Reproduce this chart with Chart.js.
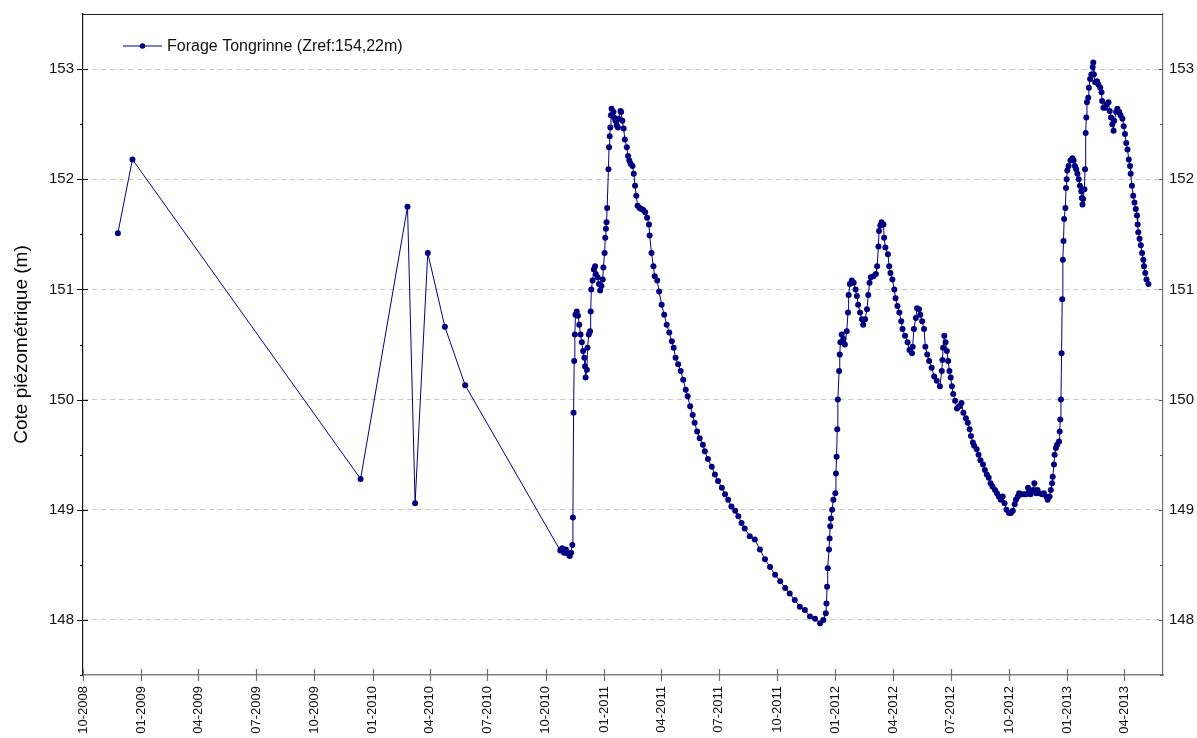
<!DOCTYPE html>
<html>
<head>
<meta charset="utf-8">
<script src="https://cdn.jsdelivr.net/npm/chart.js@4.4.0/dist/chart.umd.min.js"></script>
<style>
html,body{margin:0;padding:0;background:#fff;}
#wrap{width:1197px;height:738px;position:relative;}
</style>
</head>
<body>
<div id="wrap"><canvas id="c" width="1197" height="738"></canvas></div>
<script>
// ---------- data ----------
const seriesLabel = 'Forage Tongrinne (Zref:154,22m)';
const yAxisTitle = 'Cote piézométrique (m)';
const xTickLabels = ['10-2008','01-2009','04-2009','07-2009','10-2009','01-2010','04-2010','07-2010','10-2010',
  '01-2011','04-2011','07-2011','10-2011','01-2012','04-2012','07-2012','10-2012','01-2013','04-2013'];
const xStartLabel = '10-2008';
const xEndLabel = '06-2013';
const yMin = 147.5, yMax = 153.5;
const yTickValues = [148, 149, 150, 151, 152, 153];

// observation day (days since 01-10-2008) and water level (m)
const obsDays = [
  55, 78, 438, 512, 524, 544, 571, 603,
  753, 756, 759, 762, 765, 768, 770, 772, 773, 774, 775, 776, 777, 779, 781, 783, 785, 787, 789, 791, 792, 793,
  795, 796, 798, 800, 801, 802, 804, 806, 808, 809, 812, 814, 816, 818, 820, 821, 823, 824, 825, 826, 827, 829,
  830, 831, 832, 833, 834, 837, 838, 840, 842, 844, 845, 848, 849, 851, 853, 855, 858, 860, 862, 864, 867, 869,
  871, 873, 875, 878, 881, 884, 887, 890, 893, 894, 897, 900, 902, 906, 909, 913, 917, 921, 925, 929, 932, 935,
  939, 943, 947, 951, 954, 958, 962, 965, 969, 973, 978, 981, 986, 992, 997, 1002, 1008, 1013, 1018, 1023, 1029,
  1034, 1039, 1044, 1052, 1060, 1068, 1076, 1084, 1092, 1100, 1108, 1115, 1123, 1131, 1139, 1147, 1155, 1163,
  1168, 1172, 1173, 1174, 1175, 1177, 1178, 1179, 1180, 1182, 1184, 1187, 1188, 1189, 1190, 1191, 1193, 1194,
  1195, 1197, 1200, 1202, 1205, 1207, 1208, 1210, 1213, 1216, 1219, 1221, 1223, 1226, 1229, 1231, 1234, 1237,
  1239, 1241, 1243, 1247, 1251, 1253, 1255, 1256, 1258, 1260, 1263, 1264, 1266, 1270, 1272, 1274, 1277, 1280,
  1282, 1285, 1288, 1291, 1293, 1297, 1301, 1304, 1308, 1309, 1311, 1314, 1316, 1319, 1321, 1324, 1327, 1329,
  1332, 1335, 1339, 1343, 1347, 1352, 1355, 1356, 1357, 1359, 1361, 1363, 1365, 1367, 1369, 1371, 1373, 1376,
  1379, 1383, 1386, 1389, 1393, 1396, 1399, 1401, 1404, 1406, 1410, 1413, 1416, 1420, 1423, 1426, 1429, 1432,
  1435, 1439, 1442, 1445, 1448, 1451, 1454, 1457, 1461, 1464, 1467, 1470, 1472, 1475, 1477, 1481, 1485, 1488,
  1491, 1493, 1495, 1499, 1501, 1504, 1506, 1509, 1513, 1516, 1520, 1522, 1525, 1527, 1529, 1530, 1532, 1533,
  1535, 1537, 1540, 1541, 1542, 1543, 1544, 1545, 1546, 1547, 1548, 1550, 1551, 1552, 1553, 1555, 1558, 1561,
  1563, 1565, 1567, 1569, 1571, 1573, 1575, 1576, 1577, 1578, 1580, 1581, 1582, 1583, 1584, 1586, 1587, 1589,
  1591, 1593, 1594, 1595, 1597, 1600, 1602, 1605, 1607, 1608, 1610, 1613, 1615, 1618, 1620, 1622, 1624, 1626,
  1627, 1630, 1632, 1635, 1637, 1640, 1642, 1644, 1646, 1648, 1650, 1652, 1653, 1655, 1657, 1659, 1661, 1663,
  1664, 1665, 1667, 1669, 1671, 1673, 1674, 1676, 1678, 1681
];
const obsLevels = [
  151.51, 152.18, 149.28, 151.75, 149.06, 151.33, 150.66, 150.13,
  148.63, 148.65, 148.61, 148.64, 148.60, 148.58, 148.61, 148.68, 148.93, 149.88, 150.35, 150.59, 150.77, 150.80, 150.76, 150.68, 150.59, 150.52, 150.44, 150.38, 150.30, 150.20,
  150.27, 150.47, 150.59, 150.62, 150.80, 151.00, 151.08, 151.18, 151.21, 151.14, 151.11, 151.05, 150.99, 151.03, 151.09, 151.20, 151.33, 151.47, 151.55, 151.61, 151.74, 152.09,
  152.29, 152.39, 152.47, 152.58, 152.64, 152.61, 152.56, 152.53, 152.49, 152.47, 152.55, 152.62, 152.61, 152.53, 152.46, 152.36, 152.29, 152.21, 152.17, 152.14, 152.12, 152.05,
  151.94, 151.85, 151.76, 151.74, 151.73, 151.72, 151.70, 151.65, 151.59, 151.49, 151.33, 151.21, 151.12, 151.08, 150.98, 150.86, 150.77, 150.68, 150.61, 150.53, 150.47, 150.38,
  150.32, 150.26, 150.18, 150.09, 150.03, 149.94, 149.86, 149.79, 149.71, 149.65, 149.59, 149.53, 149.46, 149.39, 149.32, 149.26, 149.20, 149.14, 149.09, 149.03, 148.99,
  148.94, 148.88, 148.83, 148.76, 148.73, 148.64, 148.55, 148.48, 148.41, 148.35, 148.29, 148.24, 148.18, 148.12, 148.09, 148.03, 148.01, 147.97,
  148.00, 148.06, 148.15, 148.30, 148.47, 148.64, 148.74, 148.85, 148.92, 149.00, 149.09, 149.15, 149.33, 149.48, 149.73, 150.00, 150.26, 150.41,
  150.52, 150.59, 150.55, 150.50, 150.62, 150.79, 150.95, 151.05, 151.08, 151.06, 151.00, 150.94, 150.86, 150.79, 150.73, 150.68, 150.73, 150.82,
  150.95, 151.06, 151.11, 151.12, 151.14, 151.21, 151.39, 151.53, 151.58, 151.61, 151.59, 151.47, 151.38, 151.32, 151.21, 151.15, 151.09, 151.00,
  150.92, 150.85, 150.79, 150.71, 150.64, 150.58, 150.52, 150.45, 150.42, 150.48, 150.64, 150.74, 150.83, 150.82, 150.77, 150.71, 150.64, 150.48,
  150.41, 150.35, 150.29, 150.21, 150.17, 150.12, 150.26, 150.36, 150.47, 150.58, 150.52, 150.44, 150.35, 150.26, 150.20, 150.12, 150.05, 149.99,
  149.92, 149.94, 149.97, 149.88, 149.83, 149.79, 149.73, 149.67, 149.61, 149.58, 149.55, 149.50, 149.45, 149.41, 149.36, 149.32, 149.29, 149.24,
  149.21, 149.18, 149.15, 149.12, 149.09, 149.12, 149.06, 149.00, 148.97, 148.97, 148.99, 149.05, 149.09, 149.12, 149.15, 149.14, 149.14, 149.14,
  149.20, 149.17, 149.14, 149.18, 149.24, 149.15, 149.18, 149.15, 149.14, 149.15, 149.12, 149.09, 149.12, 149.18, 149.24, 149.30, 149.41, 149.50,
  149.56, 149.59, 149.62, 149.71, 149.82, 150.00, 150.42, 150.91, 151.27, 151.44, 151.64, 151.74, 151.92, 152.00, 152.08, 152.12, 152.17, 152.19,
  152.17, 152.12, 152.09, 152.05, 152.00, 151.94, 151.89, 151.83, 151.77, 151.82, 151.91, 152.09, 152.42, 152.56, 152.70, 152.74, 152.83, 152.91,
  152.95, 153.02, 153.06, 152.95, 152.88, 152.89, 152.86, 152.83, 152.79, 152.71, 152.65, 152.65, 152.68, 152.70, 152.62, 152.56, 152.50, 152.44,
  152.53, 152.61, 152.64, 152.61, 152.58, 152.55, 152.48, 152.41, 152.33, 152.27, 152.18, 152.12, 152.05, 151.94, 151.85, 151.79, 151.73, 151.67,
  151.59, 151.52, 151.46, 151.40, 151.33, 151.27, 151.21, 151.15, 151.09, 151.05
];

// ---------- helpers ----------
const FONT = "'Liberation Sans', Arial, Helvetica, sans-serif";
const START = (() => { const [m, y] = xStartLabel.split('-').map(Number); return Date.UTC(y, m - 1, 1); })();
const dayOf = lbl => { const [m, y] = lbl.split('-').map(Number); return Math.round((Date.UTC(y, m - 1, 1) - START) / 86400000); };
const xTickDays = xTickLabels.map(dayOf);
const points = obsDays.map((d, i) => ({ x: d, y: obsLevels[i] }));
const LINE_COLOR = '#000080';

Chart.defaults.font.family = FONT;

function seg(ctx, x1, y1, x2, y2) { ctx.beginPath(); ctx.moveTo(x1, y1); ctx.lineTo(x2, y2); ctx.stroke(); }

const framePlugin = {
  id: 'frame',
  afterDraw(chart) {
    const { ctx, chartArea: a, scales } = chart;
    ctx.save();
    // top frame line
    ctx.strokeStyle = '#222'; ctx.lineWidth = 1.2;
    seg(ctx, a.left, a.top + 0.5, a.right, a.top + 0.5);
    // left axis ticks (major crossing, minor outside)
    ctx.strokeStyle = '#111'; ctx.lineWidth = 1;
    yTickValues.forEach(v => { const p = Math.round(scales.y.getPixelForValue(v)) + 0.5; seg(ctx, a.left - 6, p, a.left + 5, p); });
    yTickValues.forEach(v => { const p = Math.round(scales.y.getPixelForValue(v - 0.5)) + 0.5; seg(ctx, a.left - 3, p, a.left, p); });
    // right axis ticks (inside)
    ctx.strokeStyle = '#555';
    yTickValues.forEach(v => { const p = Math.round(scales.y2.getPixelForValue(v)) + 0.5; seg(ctx, a.right - 4, p, a.right, p); });
    yTickValues.forEach(v => { const p = Math.round(scales.y2.getPixelForValue(v - 0.5)) + 0.5; seg(ctx, a.right - 3, p, a.right, p); });
    // x axis ticks (crossing)
    ctx.strokeStyle = '#707070'; ctx.lineWidth = 1.2;
    xTickDays.forEach(d => { const p = Math.round(scales.x.getPixelForValue(d)) + 0.5; seg(ctx, p, a.bottom - 6, p, a.bottom + 6); });
    // legend (inside plot, top-left)
    const ds = chart.data.datasets[0];
    const lx = a.left + 40, ly = a.top + 32;
    ctx.strokeStyle = ds.borderColor; ctx.lineWidth = 1;
    seg(ctx, lx, ly, lx + 39, ly);
    ctx.fillStyle = ds.borderColor;
    ctx.beginPath(); ctx.arc(lx + 19.5, ly, 2.8, 0, Math.PI * 2); ctx.fill();
    ctx.fillStyle = '#111'; ctx.font = '16px ' + FONT; ctx.textBaseline = 'middle'; ctx.textAlign = 'left';
    ctx.fillText(ds.label, lx + 44, ly + 1);
    ctx.restore();
  }
};

const fixV = w => s => { s.width = w; s.paddingTop = 0; s.paddingBottom = 0; };

new Chart(document.getElementById('c'), {
  type: 'line',
  data: {
    datasets: [{
      label: seriesLabel,
      data: points,
      borderColor: LINE_COLOR,
      backgroundColor: LINE_COLOR,
      borderWidth: 1,
      pointRadius: 3,
      pointHoverRadius: 3,
      pointBorderWidth: 0,
      pointBackgroundColor: LINE_COLOR,
      tension: 0,
      fill: false
    }]
  },
  options: {
    responsive: false,
    animation: false,
    events: [],
    layout: { padding: { top: 14, left: 0, right: 0, bottom: 0 } },
    plugins: { legend: { display: false }, tooltip: { enabled: false } },
    scales: {
      x: {
        type: 'linear',
        min: dayOf(xStartLabel),
        max: dayOf(xEndLabel),
        afterBuildTicks: s => { s.ticks = xTickDays.map(v => ({ value: v })); },
        ticks: {
          autoSkip: false, minRotation: 90, maxRotation: 90, padding: 11,
          color: '#111', font: { size: 13 },
          callback: (v, i) => xTickLabels[i]
        },
        grid: { display: false, drawTicks: false },
        border: { display: true, color: '#808080', width: 1.5 },
        afterFit: s => { s.height = 63; s.paddingLeft = 0; s.paddingRight = 0; }
      },
      y: {
        position: 'left',
        min: yMin, max: yMax,
        afterBuildTicks: s => { s.ticks = yTickValues.map(v => ({ value: v })); },
        ticks: { padding: 9, color: '#111', font: { size: 15 }, callback: v => String(v) },
        grid: { color: '#c8c8c8', lineWidth: 1, drawTicks: false },
        border: { display: true, color: '#111', width: 1.2, dash: [5, 4] },
        title: { display: true, text: yAxisTitle, color: '#000', font: { size: 19 }, padding: { top: 10, bottom: 0 } },
        afterFit: fixV(83)
      },
      y2: {
        position: 'right',
        display: true,
        min: yMin, max: yMax,
        afterBuildTicks: s => { s.ticks = yTickValues.map(v => ({ value: v })); },
        ticks: { padding: 6, color: '#111', font: { size: 15 }, callback: v => String(v) },
        grid: { display: false, drawTicks: false },
        border: { display: true, color: '#707070', width: 1.2 },
        afterFit: fixV(34)
      }
    }
  },
  plugins: [framePlugin]
});
</script>
</body>
</html>
